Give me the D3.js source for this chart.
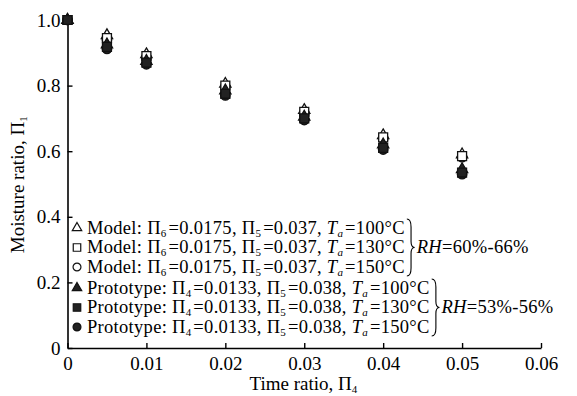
<!DOCTYPE html>
<html>
<head>
<meta charset="utf-8">
<script src="https://cdn.jsdelivr.net/npm/d3@7"></script>
<style>
  body { margin: 0; background: #fff; }
  text { font-family: "Liberation Serif", "Times New Roman", serif; fill: #000; }
</style>
</head>
<body>
<div id="viz"></div>
<script>
// chart values
var timeRatio = [0, 0.005, 0.01, 0.02, 0.03, 0.04, 0.05];
var model100 = [1, 0.953, 0.895, 0.805, 0.725, 0.648, 0.590];
var model130 = [1, 0.945, 0.890, 0.800, 0.720, 0.642, 0.585];
var model150 = [1, 0.940, 0.885, 0.795, 0.715, 0.638, 0.582];
var proto100 = [1, 0.925, 0.875, 0.785, 0.705, 0.620, 0.545];
var proto130 = [1, 0.918, 0.870, 0.775, 0.700, 0.610, 0.535];
var proto150 = [1, 0.912, 0.865, 0.770, 0.695, 0.605, 0.530];
var temps = ["100", "130", "150"];
var xTicks = [0, 0.01, 0.02, 0.03, 0.04, 0.05, 0.06];
var yTicks = [0, 0.2, 0.4, 0.6, 0.8, 1.0];

var margin = ({top: 20, right: 36, bottom: 48, left: 67.5});
var width = 577, height = 396;
var fs = "19px";
var legendFs = "18.5px";

var svg = d3.select("#viz").append("svg")
  .attr("width", width)
  .attr("height", height);

var x = d3.scaleLinear().domain([0, 0.06]).range([margin.left, width - margin.right]);
var y = d3.scaleLinear().domain([0, 1]).range([height - margin.bottom, margin.top]);

// groups of series: model = open marks, prototype = filled marks
var series = [
  {vals: model100, shape: d3.symbolTriangle, fill: "#fff", kind: "Model", order: 0},
  {vals: model130, shape: d3.symbolSquare, fill: "#fff", kind: "Model", order: 2},
  {vals: model150, shape: d3.symbolCircle, fill: "#fff", kind: "Model", order: 1},
  {vals: proto100, shape: d3.symbolTriangle, fill: "#222", kind: "Prototype", order: 3},
  {vals: proto130, shape: d3.symbolSquare, fill: "#222", kind: "Prototype", order: 5},
  {vals: proto150, shape: d3.symbolCircle, fill: "#222", kind: "Prototype", order: 4}
];

function symSize(shape) {
  if (shape === d3.symbolTriangle) return 55;
  if (shape === d3.symbolSquare) return 80;
  return 70;
}

// axes
var xAxis = svg.append("g")
  .attr("transform", "translate(0," + y(0) + ")")
  .call(d3.axisBottom(x).tickValues(xTicks).tickSizeInner(-5).tickSizeOuter(0).tickPadding(6)
    .tickFormat(function(d) { return d === 0 ? "0" : d3.format(".2f")(d); }));

var yAxis = svg.append("g")
  .attr("transform", "translate(" + x(0) + ",0)")
  .call(d3.axisLeft(y).tickValues(yTicks).tickSizeInner(-5).tickSizeOuter(0).tickPadding(7)
    .tickFormat(function(d) { return d === 0 ? "0" : d3.format(".1f")(d); }));

svg.selectAll(".domain").attr("stroke", "#000").attr("stroke-width", 1.6);
svg.selectAll(".tick line").attr("stroke", "#000").attr("stroke-width", 1.4);
svg.selectAll(".tick text")
  .style("font-family", "Liberation Serif")
  .style("font-size", fs)
  .attr("fill", "#000");
xAxis.selectAll(".tick text").attr("dy", "0.85em");

// text with a subscript part
function addSub(t, base, sub, italic) {
  var a = t.append("tspan").text(base);
  if (italic) a.style("font-style", "italic");
  var b = t.append("tspan").attr("dy", 3).style("font-size", "11px").text(sub);
  if (italic) b.style("font-style", "italic");
  t.append("tspan").attr("dy", -3).text("\u200A");
}

var xt = svg.append("text")
  .attr("x", (x(0) + x(0.06)) / 2)
  .attr("y", 390)
  .attr("text-anchor", "middle")
  .style("font-size", fs);
xt.append("tspan").text("Time ratio, ");
addSub(xt, "\u03A0", "4");

var yt = svg.append("text")
  .attr("transform", "translate(24," + (y(0) + y(1)) / 2 + ") rotate(-90)")
  .attr("text-anchor", "middle")
  .style("font-size", fs);
yt.append("tspan").text("Moisture ratio, ");
addSub(yt, "\u03A0", "1");

// markers: open model marks first, filled prototype marks on top (squares last)
series.slice().sort(function(a, b) { return a.order - b.order; }).forEach(function(s) {
  svg.append("g").selectAll("path")
    .data(timeRatio.map(function(t, i) { return [t, s.vals[i]]; }))
    .enter()
    .append("path")
    .attr("transform", function(d) { return "translate(" + x(d[0]) + "," + y(d[1]) + ")"; })
    .attr("d", d3.symbol().type(s.shape).size(symSize(s.shape)))
    .attr("fill", s.fill)
    .attr("stroke", "#111")
    .attr("stroke-width", 1.3);
});

// legend
var rowY = [228, 247.5, 267, 288, 307.5, 327];
var params = {
  Model: ["6", "=0.0175, ", "=0.037, "],
  Prototype: ["4", "=0.0133, ", "=0.038, "]
};
var rowEnd = [];

series.forEach(function(s, i) {
  var ry = rowY[i];
  svg.append("path")
    .attr("transform", "translate(77," + ry + ")")
    .attr("d", d3.symbol().type(s.shape).size(symSize(s.shape) * 0.7))
    .attr("fill", s.fill)
    .attr("stroke", "#111")
    .attr("stroke-width", 1.2);
  var p = params[s.kind];
  var t = svg.append("text")
    .attr("x", 87)
    .attr("y", ry + 5.5)
    .style("font-size", legendFs)
    .style("letter-spacing", "0.3px");
  t.append("tspan").text(s.kind + ": ");
  addSub(t, "\u03A0", p[0]);
  t.append("tspan").text(p[1]);
  addSub(t, "\u03A0", "5");
  t.append("tspan").text(p[2]);
  addSub(t, "T", "a", true);
  t.append("tspan").text("=" + temps[i % 3] + "\u00B0C");
  rowEnd.push(87 + t.node().getComputedTextLength());
});

// right-hand braces with RH ranges
var braces = [
  {top: rowY[0] - 9, bot: rowY[2] + 9, x: d3.max(rowEnd.slice(0, 3)) + 2, label: "60%-66%"},
  {top: rowY[3] - 9, bot: rowY[5] + 9, x: d3.max(rowEnd.slice(3)) + 2, label: "53%-56%"}
];
braces.forEach(function(b) {
  var m = (b.top + b.bot) / 2, w = 6;
  var path = "M" + b.x + "," + b.top +
    " Q" + (b.x + w * 0.7) + "," + b.top + " " + (b.x + w * 0.7) + "," + (b.top + 8) +
    " L" + (b.x + w * 0.7) + "," + (m - 6) +
    " Q" + (b.x + w * 0.7) + "," + m + " " + (b.x + w * 1.3) + "," + m +
    " Q" + (b.x + w * 0.7) + "," + m + " " + (b.x + w * 0.7) + "," + (m + 6) +
    " L" + (b.x + w * 0.7) + "," + (b.bot - 8) +
    " Q" + (b.x + w * 0.7) + "," + b.bot + " " + b.x + "," + b.bot;
  svg.append("path").attr("d", path).attr("fill", "none").attr("stroke", "#000").attr("stroke-width", 1.1);
  var t = svg.append("text")
    .attr("x", b.x + w * 1.3 + 2)
    .attr("y", m + 5.5)
    .style("font-size", legendFs)
    .style("letter-spacing", "0.3px");
  t.append("tspan").style("font-style", "italic").text("RH");
  t.append("tspan").text("=" + b.label);
});
</script>
</body>
</html>
